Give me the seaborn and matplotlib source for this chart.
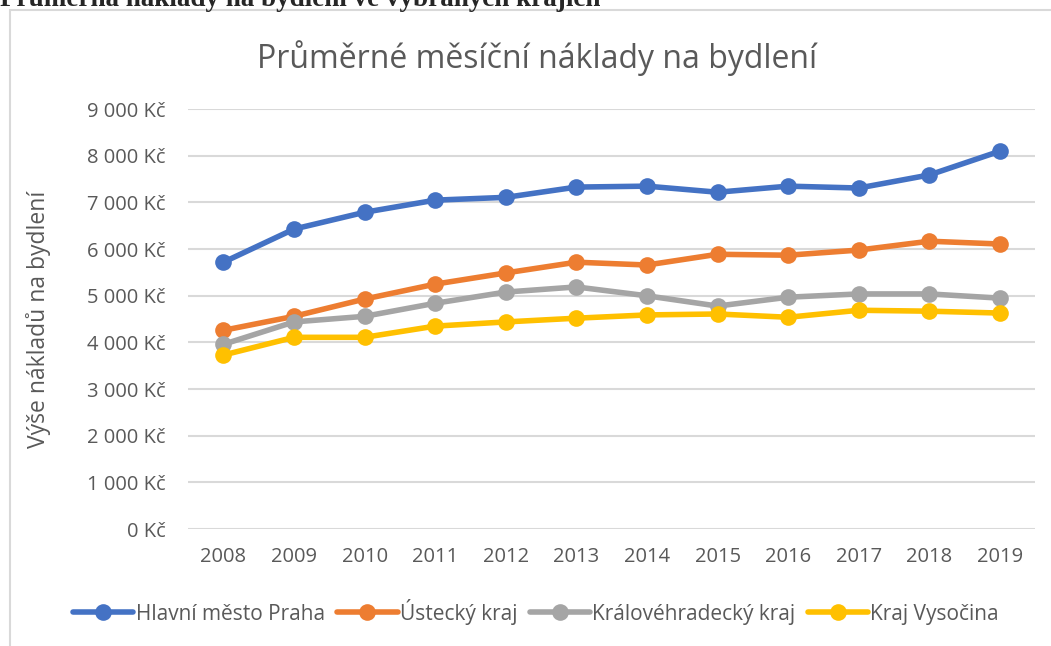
import pandas as pd
import matplotlib
matplotlib.use("Agg")
import matplotlib.pyplot as plt
from matplotlib.ticker import FuncFormatter, MultipleLocator
from matplotlib.patches import Rectangle
import seaborn as sns

# Data
roky = [2008, 2009, 2010, 2011, 2012, 2013, 2014, 2015, 2016, 2017, 2018, 2019]
praha = [5720, 6430, 6790, 7050, 7110, 7330, 7350, 7220, 7350, 7310, 7590, 8100]
ustecky = [4260, 4560, 4930, 5250, 5490, 5720, 5660, 5890, 5870, 5980, 6170, 6110]
kralovehradecky = [3960, 4440, 4560, 4840, 5080, 5190, 5000, 4780, 4970, 5040, 5040, 4950]
vysocina = [3730, 4110, 4110, 4350, 4440, 4520, 4590, 4610, 4540, 4690, 4670, 4630]

kraje = ["Hlavní město Praha", "Ústecký kraj", "Královéhradecký kraj", "Kraj Vysočina"]
barvy = ["#4472C4", "#ED7D31", "#A5A5A5", "#FFC000"]

df = pd.concat([
    pd.DataFrame({"rok": roky, "naklady": hodnoty, "kraj": kraj})
    for kraj, hodnoty in zip(kraje, [praha, ustecky, kralovehradecky, vysocina])
])

sns.set_style("white")
plt.rcParams["font.family"] = ["Open Sans", "DejaVu Sans"]
text_color = "#595959"

fig = plt.figure(figsize=(10.51, 6.46), dpi=100)
ax = fig.add_axes([0.179, 0.181, 0.806, 0.650])

sns.lineplot(data=df, x="rok", y="naklady", hue="kraj", hue_order=kraje,
             palette=barvy, marker="o", markersize=12, markeredgewidth=0,
             linewidth=4, ax=ax, legend=False)

ax.set_xlim(2007.5, 2019.5)
ax.set_ylim(0, 9000)
ax.xaxis.set_major_locator(MultipleLocator(1))
ax.yaxis.set_major_locator(MultipleLocator(1000))
ax.yaxis.set_major_formatter(FuncFormatter(lambda v, p: f"{int(v):,} Kč".replace(",", " ")))
ax.grid(axis="y", color="#d9d9d9", linewidth=1.5)
ax.set_axisbelow(True)
for s in ax.spines.values():
    s.set_visible(False)
ax.tick_params(axis="both", length=0, labelsize=14.5, labelcolor=text_color)
ax.tick_params(axis="y", pad=16)
ax.tick_params(axis="x", pad=13)
ax.set_xlabel("")
ax.set_ylabel("Výše nákladů na bydlení", fontsize=16.5, color=text_color)
ax.yaxis.set_label_coords(-0.162, 0.5)

fig.text(0.511, 1 - 58 / 646, "Průměrné měsíční náklady na bydlení", fontsize=23,
         color=text_color, ha="center", va="center")

# legenda
handles = [plt.Line2D([], [], color=c, linewidth=4, marker="o", markersize=12,
                      markeredgewidth=0) for c in barvy]
fig.legend(handles, kraje, loc="center", bbox_to_anchor=(0.51, 0.053), ncol=4,
           frameon=False, fontsize=15, labelcolor=text_color, handlelength=2.9,
           handletextpad=0.1, columnspacing=0.6)

# rámeček grafu a popisek nad ním (v originále je popisek oříznutý)
fig.patches.append(Rectangle((10 / 1051, -0.1), 1.2, 1 - 10 / 646 + 0.1,
                             transform=fig.transFigure, fill=False,
                             edgecolor="#d9d9d9", linewidth=1.5))
fig.text(0.0, 1 - 6 / 646, "Průměrná náklady na bydlení ve vybraných krajích",
         fontsize=19.5, fontweight="bold", family="Liberation Serif", va="baseline")

fig.savefig("out.png", dpi=100)
